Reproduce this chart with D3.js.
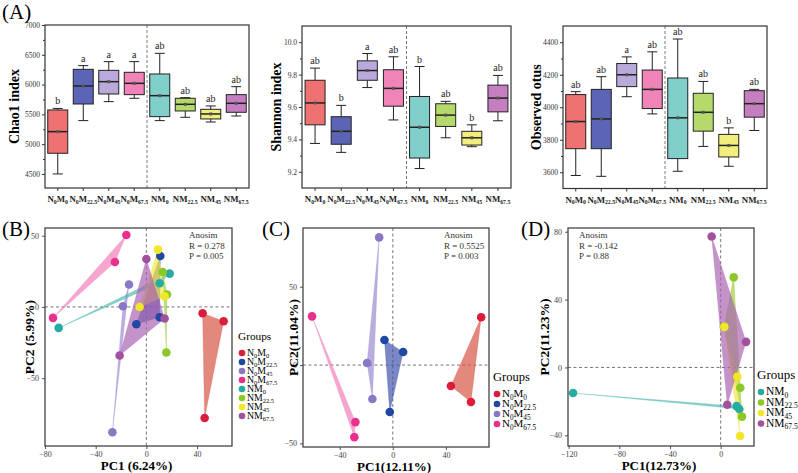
<!DOCTYPE html>
<html>
<head>
<meta charset="utf-8">
<script src="https://cdn.jsdelivr.net/npm/d3@7"></script>
<style>
  body { margin: 0; background: #fff; }
  svg { font-family: "Liberation Serif", "DejaVu Serif", serif; }
</style>
</head>
<body>
<svg id="fig" width="798" height="473"></svg>
<script>
// ---- data ----
const boxGroups = ["N0M0", "N0M22.5", "N0M45", "N0M67.5", "NM0", "NM22.5", "NM45", "NM67.5"];
const boxFill = ["#ef7272", "#5c64b6", "#baaadc", "#f084b8", "#80cfca", "#b6d96c", "#f2ee7e", "#c57fc1"];

// [whisker low, q1, median, q3, whisker high]
const chao1 = [
  [4500, 4847, 5210, 5574, 5600],
  [5395, 5674, 5977, 6256, 6318],
  [5714, 5842, 6049, 6239, 6385],
  [5770, 5831, 6021, 6206, 6385],
  [5395, 5462, 5814, 6178, 6525],
  [5451, 5557, 5669, 5770, 5781],
  [5372, 5423, 5507, 5585, 5641],
  [5473, 5535, 5686, 5831, 5965]
];
const chao1Letters = ["b", "a", "a", "a", "ab", "ab", "ab", "ab"];

const shannon = [
  [9.375, 9.49, 9.625, 9.765, 9.84],
  [9.32, 9.37, 9.45, 9.54, 9.61],
  [9.72, 9.765, 9.825, 9.885, 9.93],
  [9.52, 9.605, 9.715, 9.83, 9.91],
  [9.22, 9.285, 9.475, 9.665, 9.85],
  [9.41, 9.48, 9.55, 9.62, 9.635],
  [9.355, 9.365, 9.41, 9.45, 9.49],
  [9.515, 9.57, 9.655, 9.735, 9.795]
];
const shannonLetters = ["ab", "b", "a", "ab", "b", "ab", "b", "ab"];

const otus = [
  [3580, 3745, 3912, 4078, 4096],
  [3575, 3745, 3928, 4110, 4188],
  [4065, 4127, 4200, 4269, 4310],
  [3959, 3992, 4110, 4229, 4341],
  [3606, 3684, 3935, 4180, 4420],
  [3759, 3853, 3969, 4086, 4159],
  [3637, 3694, 3765, 3833, 3873],
  [3857, 3939, 4022, 4102, 4110]
];
const otusLetters = ["ab", "ab", "a", "ab", "ab", "ab", "b", "ab"];

// PCoA groups
const pcoaGroups = ["N0M0", "N0M22.5", "N0M45", "N0M67.5", "NM0", "NM22.5", "NM45", "NM67.5"];
const pointColor = ["#dc1c3c", "#1e48a2", "#8a78c6", "#ea2f8c", "#26aba2", "#8cc826", "#f0e62a", "#a2519e"];
const hullColor = ["#d4503e", "#3e4eaa", "#9a88d0", "#f07cb8", "#4cb8ae", "#9ccc3a", "#f2e640", "#a860b0"];

const pcoaB = [
  ["N0M0", 44.4, -4.4], ["N0M0", 61.0, -10.0], ["N0M0", 46.0, -78],
  ["N0M22.5", 11.0, 35.8], ["N0M22.5", -7.9, -12.1], ["N0M22.5", 10.5, -7.2],
  ["N0M45", -13.7, 15.7], ["N0M45", -18.5, 0.5], ["N0M45", -26.8, -88],
  ["N0M67.5", -15.8, 50.5], ["N0M67.5", -24.8, 31.5], ["N0M67.5", -73.7, -7.7],
  ["NM0", -69.2, -14.7], ["NM0", 18.4, 23.4], ["NM0", 10.5, 16.6],
  ["NM22.5", 12.9, 24.5], ["NM22.5", 16.3, 8.7], ["NM22.5", 15.8, -32],
  ["NM45", 9.2, 40.2], ["NM45", 14.4, 7.5], ["NM45", -5.3, 0],
  ["NM67.5", 0, 33.6], ["NM67.5", -21.1, -34.1], ["NM67.5", 14.4, -8.1]
];
const pcoaC = [
  ["N0M0", 66.6, 30.5], ["N0M0", 43.8, -13.4], ["N0M0", 58.9, -23.6],
  ["N0M22.5", -6.3, 16.0], ["N0M22.5", 7.8, 8.3], ["N0M22.5", -2.3, -30.0],
  ["N0M45", -10.3, 81.5], ["N0M45", -19.4, 1.3], ["N0M45", -15.4, -21.7],
  ["N0M67.5", -60.9, 31.1], ["N0M67.5", -28.2, -36.4], ["N0M67.5", -29.0, -46.0]
];
const pcoaD = [
  ["NM0", -116.5, -15.1], ["NM0", 14.7, -24.5], ["NM0", 12.6, -22.8],
  ["NM22.5", 10.3, 53.1], ["NM22.5", 2.5, 24], ["NM22.5", 15.5, -12.0], ["NM22.5", 16.8, -29.0],
  ["NM45", 13.1, -5.5], ["NM45", 15.3, -40.4], ["NM45", 2.9, 23.9],
  ["NM67.5", -7.1, 77.2], ["NM67.5", 20.0, 15.1], ["NM67.5", 5.2, -22.0]
];

const svg = d3.select("#fig");

// writes a group name with its numbers as subscripts
function subLabel(sel, name, size) {
  const parts = name.match(/[0-9.]+|[^0-9.]+/g);
  let down = false;
  parts.forEach(p => {
    const isSub = /[0-9]/.test(p);
    const t = sel.append("tspan").text(p);
    if (isSub) {
      t.attr("font-size", size * 0.66).attr("dy", down ? 0 : size * 0.2);
      down = true;
    } else {
      t.attr("font-size", size).attr("dy", down ? -size * 0.2 : 0);
      down = false;
    }
  });
}

function panelLetter(x, y, txt) {
  svg.append("text").attr("x", x).attr("y", y).attr("font-size", 21).text(txt);
}

// ---------- box plots ----------
function boxPanel(box, data, letters, domain, ticks, minor, label, labelX) {
  const g = svg.append("g");
  const x = d3.scaleBand().domain(boxGroups).range([box.x0, box.x1]);
  const y = d3.scaleLinear().domain(domain).range([box.y1, box.y0]);
  const bw = 20, cap = 10;

  // y axis
  const ya = g.append("g").attr("transform", `translate(${box.x0},0)`)
    .call(d3.axisLeft(y).tickValues(ticks).tickSize(3).tickPadding(2).tickFormat(d3.format(label === "Shannon index" ? ".1f" : "d")));
  ya.select(".domain").remove();
  ya.selectAll("text").attr("font-family", "Liberation Serif").attr("font-size", 7.5).attr("fill", "#333");
  ya.selectAll("line").attr("stroke", "#333");
  g.append("g").attr("transform", `translate(${box.x0},0)`)
    .call(d3.axisLeft(y).tickValues(minor).tickSize(2).tickFormat(""))
    .call(s => s.select(".domain").remove())
    .selectAll("line").attr("stroke", "#333");

  // x axis
  const xa = g.append("g").attr("transform", `translate(0,${box.y1})`)
    .call(d3.axisBottom(x).tickSize(3).tickFormat(""));
  xa.select(".domain").remove();
  xa.selectAll("line").attr("stroke", "#333");
  boxGroups.forEach(n => {
    const t = g.append("text").attr("x", x(n) + x.bandwidth() / 2).attr("y", box.y1 + 14)
      .attr("text-anchor", "middle").attr("font-weight", "bold").attr("fill", "#222");
    subLabel(t, n, 8.8);
  });

  // separator
  g.append("line").attr("x1", x(boxGroups[4])).attr("x2", x(boxGroups[4]))
    .attr("y1", box.y0).attr("y2", box.y1)
    .attr("stroke", "#555").attr("stroke-dasharray", "3,2").attr("stroke-width", 0.8);

  data.forEach((d, i) => {
    const cx = x(boxGroups[i]) + x.bandwidth() / 2;
    const bg = g.append("g").attr("stroke", "#222").attr("stroke-width", 1);
    bg.append("line").attr("x1", cx).attr("x2", cx).attr("y1", y(d[0])).attr("y2", y(d[1]));
    bg.append("line").attr("x1", cx).attr("x2", cx).attr("y1", y(d[3])).attr("y2", y(d[4]));
    bg.append("line").attr("x1", cx - cap / 2).attr("x2", cx + cap / 2).attr("y1", y(d[0])).attr("y2", y(d[0]));
    bg.append("line").attr("x1", cx - cap / 2).attr("x2", cx + cap / 2).attr("y1", y(d[4])).attr("y2", y(d[4]));
    bg.append("rect").attr("x", cx - bw / 2).attr("width", bw)
      .attr("y", y(d[3])).attr("height", y(d[1]) - y(d[3]))
      .attr("fill", boxFill[i]);
    bg.append("line").attr("x1", cx - bw / 2).attr("x2", cx + bw / 2).attr("y1", y(d[2])).attr("y2", y(d[2]))
      .attr("stroke-width", 1.5);
    bg.append("rect").attr("x", cx - 1.5).attr("y", y(d[2]) - 1.5).attr("width", 3).attr("height", 3)
      .attr("fill", "#555").attr("stroke", "none");
    g.append("text").attr("x", cx).attr("y", y(d[4]) - 4).attr("text-anchor", "middle")
      .attr("font-size", 10).attr("fill", "#222").text(letters[i]);
  });

  g.append("rect").attr("x", box.x0).attr("y", box.y0)
    .attr("width", box.x1 - box.x0).attr("height", box.y1 - box.y0)
    .attr("fill", "none").attr("stroke", "#333").attr("stroke-width", 1.2);

  g.append("text").attr("transform", `translate(${labelX},${(box.y0 + box.y1) / 2}) rotate(-90)`)
    .attr("text-anchor", "middle").attr("font-weight", "bold").attr("font-size", 14).text(label);
}

boxPanel({ x0: 45, x1: 249, y0: 25, y1: 188 }, chao1, chao1Letters, [4264, 7000],
  [4500, 5000, 5500, 6000, 6500, 7000], [4750, 5250, 5750, 6250, 6750], "Chao1 index", 19);
boxPanel({ x0: 302, x1: 511, y0: 26, y1: 188 }, shannon, shannonLetters, [9.1, 10.1],
  [9.2, 9.4, 9.6, 9.8, 10.0], [9.3, 9.5, 9.7, 9.9], "Shannon index", 281);
boxPanel({ x0: 563, x1: 767, y0: 26, y1: 188.5 }, otus, otusLetters, [3500, 4500],
  [3600, 3800, 4000, 4200, 4400], [3700, 3900, 4100, 4300], "Observed otus", 541);

// ---------- PCoA ----------
function pcoaPanel(box, pts, xDom, yDom, xTicks, yTicks, stats, xLab, yLab, yLabX, legendPos, legendStep, legendSize) {
  const g = svg.append("g");
  const x = d3.scaleLinear().domain(xDom).range([box.x0, box.x1]);
  const y = d3.scaleLinear().domain(yDom).range([box.y1, box.y0]);

  const xa = g.append("g").attr("transform", `translate(0,${box.y1})`)
    .call(d3.axisBottom(x).tickValues(xTicks).tickSize(3).tickPadding(2));
  const ya = g.append("g").attr("transform", `translate(${box.x0},0)`)
    .call(d3.axisLeft(y).tickValues(yTicks).tickSize(3).tickPadding(3));
  [xa, ya].forEach(a => {
    a.select(".domain").remove();
    a.selectAll("line").attr("stroke", "#555");
    a.selectAll("text").attr("font-family", "Liberation Serif").attr("font-size", 8).attr("fill", "#444");
  });

  g.append("line").attr("x1", x(0)).attr("x2", x(0)).attr("y1", box.y0).attr("y2", box.y1)
    .attr("stroke", "#666").attr("stroke-dasharray", "3,2.5").attr("stroke-width", 0.9);
  g.append("line").attr("x1", box.x0).attr("x2", box.x1).attr("y1", y(0)).attr("y2", y(0))
    .attr("stroke", "#666").attr("stroke-dasharray", "3,2.5").attr("stroke-width", 0.9);

  const used = pcoaGroups.filter(n => pts.some(p => p[0] === n));
  used.forEach(n => {
    const i = pcoaGroups.indexOf(n);
    const hull = d3.polygonHull(pts.filter(p => p[0] === n).map(p => [x(p[1]), y(p[2])]));
    if (hull) g.append("path").attr("d", "M" + hull.join("L") + "Z")
      .attr("fill", hullColor[i]).attr("fill-opacity", 0.68)
      .attr("stroke", hullColor[i]).attr("stroke-opacity", 0.5).attr("stroke-width", 0.5);
  });
  g.selectAll(".pt").data(pts).join("circle")
    .attr("cx", d => x(d[1])).attr("cy", d => y(d[2])).attr("r", 4.3)
    .attr("fill", d => pointColor[pcoaGroups.indexOf(d[0])]);

  g.append("rect").attr("x", box.x0).attr("y", box.y0)
    .attr("width", box.x1 - box.x0).attr("height", box.y1 - box.y0)
    .attr("fill", "none").attr("stroke", "#444").attr("stroke-width", 1.3);

  stats.forEach((s, k) => {
    g.append("text").attr("x", s[0]).attr("y", s[1] + k * 10.5).attr("font-size", 9).attr("fill", "#333").text(s[2]);
  });

  g.append("text").attr("x", (box.x0 + box.x1) / 2 - 2).attr("y", box.y1 + 24).attr("text-anchor", "middle")
    .attr("font-weight", "bold").attr("font-size", 13).text(xLab);
  g.append("text").attr("transform", `translate(${yLabX},${(box.y0 + box.y1) / 2}) rotate(-90)`)
    .attr("text-anchor", "middle").attr("font-weight", "bold").attr("font-size", 13.5).text(yLab);

  // legend
  const lg = g.append("g").attr("transform", `translate(${legendPos[0]},${legendPos[1]})`);
  lg.append("text").attr("x", -4).attr("y", 0).attr("font-size", legendSize + 1.5).text("Groups");
  used.forEach((n, k) => {
    const i = pcoaGroups.indexOf(n);
    const yy = 13 + k * legendStep;
    lg.append("circle").attr("cx", 0).attr("cy", yy).attr("r", 3.3).attr("fill", pointColor[i]);
    const t = lg.append("text").attr("x", 5).attr("y", yy + legendSize * 0.3);
    subLabel(t, n, legendSize);
  });
}

pcoaPanel({ x0: 45, x1: 232, y0: 228, y1: 446 }, pcoaB, [-80, 67.6], [-97.6, 55.4],
  [-80, -40, 0, 40], [-50, 0, 50],
  [[189, 238, "Anosim"], [189, 238, "R = 0.278"], [189, 238, "P = 0.005"]],
  "PC1 (6.24%)", "PC2 (5.99%)", 34, [242, 340], 9, 9.8);
pcoaPanel({ x0: 303, x1: 489, y0: 228, y1: 447 }, pcoaC, [-67.7, 72.5], [-52.3, 87.5],
  [-40, 0, 40], [-50, 0, 50],
  [[444, 238, "Anosim"], [444, 238, "R = 0.5525"], [444, 238, "P = 0.003"]],
  "PC1(12.11%)", "PC2(11.04%)", 298, [497, 381], 10, 11);
pcoaPanel({ x0: 568, x1: 754, y0: 228, y1: 446 }, pcoaD, [-120.5, 26.3], [-46.3, 82.2],
  [-120, -80, -40, 0], [-40, 0, 40, 80],
  [[579, 238, "Anosim"], [579, 238, "R = -0.142"], [579, 238, "P = 0.88"]],
  "PC1(12.73%)", "PC2(11.23%)", 549, [761, 379], 10.5, 11.5);

panelLetter(2, 19, "(A)");
panelLetter(2, 236, "(B)");
panelLetter(262, 236, "(C)");
panelLetter(521, 236, "(D)");
</script>
</body>
</html>
